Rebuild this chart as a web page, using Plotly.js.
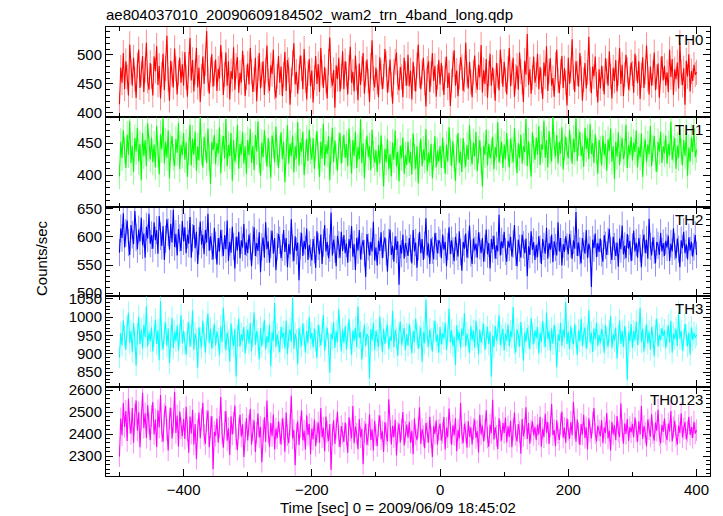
<!DOCTYPE html>
<html>
<head>
<meta charset="utf-8">
<script src="https://cdn.plot.ly/plotly-3.0.1.min.js"></script>
<style>html,body{margin:0;padding:0;background:#fff;}#chart{width:723px;height:516px;}</style>
</head>
<body>
<div id="chart"></div>
<script>
// Time bins (sec), 0 = 2009/06/09 18:45:02
var tStart = -500, tStep = 2;

var bandNames = ["TH0", "TH1", "TH2", "TH3", "TH0123"];

var th0 = [415,478,452,503,441,489,462,430,518,471,447,495,458,426,482,509,443,467,498,436,474,521,455,440,486,
463,430,497,472,515,448,481,425,466,502,439,477,533,458,421,490,467,444,511,476,432,469,495,452,484,
447,505,461,428,483,529,456,491,437,470,512,444,478,419,463,497,450,486,541,458,433,474,501,445,468,
492,438,476,459,517,483,431,466,504,447,489,423,472,458,513,440,481,496,435,469,452,507,478,429,461,
485,449,512,471,436,458,495,420,477,503,442,466,489,431,474,516,455,438,482,467,509,444,426,463,498,
452,480,429,466,505,438,491,474,414,457,486,520,449,471,433,462,499,477,441,510,456,423,468,493,446,
473,418,461,498,450,484,436,512,469,443,479,455,425,488,530,464,447,474,409,482,458,495,437,463,506,
441,489,467,432,478,514,452,471,437,499,460,422,485,448,476,503,433,467,492,455,419,481,525,459,444,
478,453,427,496,470,441,463,510,484,435,457,492,449,416,471,488,504,452,439,479,462,427,495,468,447,
500,446,473,423,488,459,437,482,518,464,441,470,495,452,411,476,489,436,467,503,455,481,428,462,491,
449,486,460,431,475,497,443,469,412,455,484,508,447,473,429,462,496,479,438,457,521,466,442,488,453,
427,470,499,456,440,483,461,517,435,474,450,493,426,468,502,447,478,455,421,486,464,439,509,472,445,
488,457,432,476,512,446,469,495,428,463,481,440,504,471,453,419,490,466,536,448,475,433,461,497,452,
466,502,441,479,455,424,487,463,515,438,472,494,447,460,428,483,509,456,434,471,498,443,477,452,413,
495,450,474,527,461,436,489,468,445,503,476,421,457,486,442,470,531,458,434,480,463,497,449,418,475,
442,481,459,432,494,472,447,506,463,425,478,455,491,437,468,512,450,483,429,466,500,474,440,459,487,
468,435,502,477,451,489,424,465,496,443,471,516,458,432,480,447,469,504,439,462,485,426,474,498,456,
481,447,470,436,509,462,493,431,475,458,487,442,520,469,448,477,414,490,463,501,437,472,455,483,466,
470];

var th1 = [398,452,427,470,439,411,463,432,485,419,446,405,458,437,474,421,449,392,466,430,455,414,481,442,425,
459,420,448,412,477,433,401,464,440,489,418,452,427,470,395,443,461,428,414,456,435,482,409,447,431,
466,424,451,397,438,479,415,457,432,468,407,445,423,491,436,412,460,444,419,473,428,386,452,439,463,
417,450,434,475,403,442,461,426,488,414,447,430,466,391,455,421,438,479,410,449,432,468,418,445,402,
455,431,472,419,446,408,463,437,484,424,399,451,428,470,441,413,458,433,396,462,447,420,476,435,411,
441,467,425,452,389,436,478,418,449,430,462,404,445,426,483,415,451,437,468,400,434,457,422,471,438,
424,458,410,443,469,431,397,452,426,480,415,448,433,461,392,439,474,420,454,429,407,447,466,418,440,
463,427,449,414,473,436,402,455,430,468,411,444,425,487,419,450,395,436,462,428,445,408,471,433,420,
439,405,447,418,462,428,382,441,420,456,409,433,398,451,424,470,413,437,390,446,427,459,402,431,416,
452,419,436,401,465,428,410,445,387,432,457,414,440,423,472,406,435,419,449,395,428,461,412,438,421,
446,411,459,430,402,448,421,475,436,414,453,427,391,442,466,419,437,405,458,431,413,447,424,478,434,
417,451,429,468,406,440,455,423,382,446,432,471,415,449,426,437,460,409,444,428,483,420,439,452,411,
448,425,466,434,412,457,439,420,474,431,403,450,427,463,418,445,436,488,414,453,429,398,467,440,424,
459,432,477,416,448,440,485,427,455,412,469,438,421,491,446,429,463,418,452,434,475,409,444,460,437,
426,471,443,418,457,436,489,422,451,468,430,445,413,474,441,458,425,480,433,450,419,464,438,402,455,
440,415,462,431,449,407,456,438,473,421,445,394,452,429,467,416,441,458,425,436,479,411,447,432,460,
423,451,436,470,412,444,428,465,397,439,456,420,448,433,477,414,442,461,426,405,452,437,468,419,445,
434,462,418,449,431,484,424,441,458,410,446,427,472,437,415,455,430,466,399,443,421,459,436,474,428,
440];

var th2 = [572,615,598,642,581,607,629,590,568,621,604,587,646,599,578,613,592,634,585,606,563,618,597,641,588,
603,579,626,594,612,570,637,601,584,619,559,596,631,608,577,623,590,648,582,605,567,614,598,575,628,
592,617,571,604,588,635,563,598,621,580,609,552,593,627,586,604,569,612,590,641,575,601,583,560,616,
585,551,598,574,612,589,566,603,578,629,557,591,572,618,583,544,600,576,609,562,594,581,623,568,590,
571,604,583,548,595,617,566,589,575,608,537,582,599,563,626,578,592,554,587,611,570,598,541,583,605,
594,562,581,612,573,598,546,587,569,631,580,557,601,575,590,523,584,607,566,593,578,615,559,586,572,
558,596,577,545,610,583,569,604,552,589,621,574,591,562,580,643,567,595,578,548,602,586,563,609,575,
603,571,588,554,596,580,619,565,587,541,598,576,612,560,583,594,571,529,605,582,567,591,574,627,558,
581,549,593,575,608,562,587,599,573,538,590,613,568,584,556,601,577,592,515,586,570,604,561,589,578,
566,598,580,553,612,574,590,545,582,609,571,596,559,585,633,567,588,552,597,576,560,607,583,571,594,
589,562,604,577,591,548,583,617,569,594,575,557,600,582,565,610,573,540,591,579,606,563,586,620,571,
552,597,576,588,563,608,584,571,598,556,580,613,569,589,544,596,578,602,561,585,574,639,567,592,580,
609,574,556,593,581,600,565,587,621,572,548,595,580,563,604,586,571,597,530,583,568,610,577,591,559,
586,564,601,578,552,596,583,570,616,561,589,577,604,555,592,581,567,626,574,598,549,587,573,601,582,
569,605,587,561,594,579,644,566,590,575,553,598,584,570,612,562,588,577,511,595,580,606,564,589,573,
597,571,556,603,585,568,592,614,576,559,600,583,566,590,547,597,578,620,569,584,562,605,579,593,557,
582,611,574,590,563,598,580,546,589,604,571,595,561,632,583,567,599,576,553,591,585,568,607,574,589,
566,593,581,602,557,588,574,615,583,562,597,578,546,594,580,609,571,587,560,599,576,591,565,582,603,
568];

var th3 = [890,957,923,991,948,911,975,1012,930,962,905,984,941,868,953,1001,926,967,914,979,945,1030,920,958,934,
972,906,951,993,927,964,882,1043,939,912,958,985,921,969,874,947,998,915,960,935,977,908,951,1005,928,
963,930,897,958,986,920,949,1018,911,955,938,862,972,943,918,990,951,903,966,1011,929,968,914,947,981,
922,961,940,896,975,932,1026,945,910,958,937,878,983,942,921,968,838,949,996,919,954,935,973,901,946,
966,928,984,907,951,1013,925,962,939,885,970,920,956,993,912,948,930,980,866,959,936,1039,918,953,931,
905,973,944,958,915,991,899,949,967,932,1052,914,955,937,871,970,946,921,983,952,903,962,929,1000,941,
957,917,969,935,889,979,948,922,962,1006,908,946,971,928,848,955,940,986,916,961,933,1021,949,906,966,
930,976,912,953,994,942,897,963,936,972,918,1029,944,959,884,938,980,921,954,946,832,967,937,985,910,
963,937,919,1002,951,904,968,927,960,979,912,947,935,1017,918,965,943,894,957,988,925,950,971,909,953,
922,981,946,901,962,932,996,953,914,946,972,878,959,929,1048,947,920,966,940,906,961,990,933,952,903,
973,926,956,942,985,910,950,1023,931,964,921,946,869,978,937,959,915,969,949,1011,920,955,936,902,975,
938,962,917,991,947,899,966,930,955,982,911,944,973,926,961,837,950,918,976,936,958,1005,924,949,968,
909,955,936,980,920,962,945,1028,928,903,967,951,919,987,940,881,958,932,971,947,913,997,954,926,964,
944,973,901,958,933,990,950,918,1012,939,962,908,969,927,979,946,863,953,935,984,921,966,944,1041,926,
960,913,975,941,926,982,948,897,964,934,996,921,953,972,914,945,1019,930,957,905,968,940,985,922,951,
929,968,950,903,979,944,919,961,1003,915,953,936,972,887,948,991,927,963,918,976,942,829,959,934,981,
916,962,938,988,924,955,1025,932,968,906,947,981,928,961,911,973,945,893,963,996,920,952,937,970,948,
964,915,949,977,930,990,903,955,941,968,922,1013,942,962,909,936,982,950,921,958,898,972,938,957,944,
952];

var th0123 = [2298,2470,2395,2541,2432,2505,2368,2560,2452,2401,2518,2360,2487,2553,2415,2499,2340,2462,2588,2428,2494,2382,2531,2448,2372,
2482,2545,2398,2466,2341,2508,2430,2577,2412,2365,2490,2528,2420,2325,2471,2519,2380,2452,2592,2405,2484,2343,2502,2426,2390,
2468,2378,2524,2415,2315,2480,2402,2510,2352,2445,2286,2418,2498,2381,2466,2542,2396,2355,2458,2507,2340,2430,2482,2240,2410,
2392,2470,2360,2432,2568,2402,2338,2455,2505,2370,2426,2305,2481,2398,2450,2530,2378,2328,2426,2488,2389,2444,2295,2408,2473,
2371,2440,2515,2352,2418,2462,2318,2405,2493,2384,2432,2272,2415,2476,2365,2553,2408,2342,2450,2390,2489,2330,2425,2381,2458,
2405,2352,2470,2425,2320,2498,2394,2358,2440,2574,2380,2418,2258,2400,2458,2350,2432,2508,2372,2415,2330,2485,2396,2446,2308,
2425,2376,2466,2345,2408,2452,2360,2518,2385,2428,2322,2479,2411,2368,2446,2236,2398,2462,2355,2425,2501,2390,2340,2436,2405,
2364,2452,2398,2315,2476,2416,2380,2528,2358,2434,2401,2331,2468,2385,2424,2262,2410,2448,2350,2396,2490,2373,2421,2325,2460,
2395,2345,2438,2484,2376,2413,2318,2455,2400,2366,2558,2415,2352,2437,2386,2465,2302,2405,2448,2362,2421,2500,2348,2410,2443,
2383,2456,2360,2415,2308,2470,2398,2372,2430,2522,2355,2422,2391,2335,2450,2408,2362,2478,2385,2296,2436,2400,2462,2352,2418,
2448,2370,2406,2477,2330,2428,2385,2516,2405,2351,2440,2395,2472,2322,2418,2380,2541,2402,2358,2447,2410,2338,2458,2388,2431,
2352,2424,2466,2382,2413,2316,2488,2398,2438,2366,2419,2508,2384,2342,2442,2405,2556,2375,2430,2392,2332,2472,2413,2370,2450,
2405,2475,2362,2435,2388,2460,2340,2420,2498,2396,2366,2445,2410,2310,2468,2390,2426,2522,2378,2450,2356,2416,2458,2395,2432,
2372,2442,2398,2478,2342,2424,2386,2492,2406,2455,2355,2433,2537,2395,2418,2345,2462,2404,2373,2445,2502,2383,2428,2360,2470,
2418,2378,2455,2395,2546,2428,2365,2466,2405,2350,2445,2398,2488,2382,2430,2330,2472,2412,2380,2452,2518,2403,2366,2438,2416,
2390,2462,2358,2430,2405,2495,2380,2416,2325,2456,2398,2440,2372,2482,2410,2386,2540,2418,2356,2448,2400,2468,2368,2432,2408,
2446,2385,2475,2412,2365,2458,2398,2528,2378,2436,2405,2345,2466,2422,2388,2490,2404,2370,2452,2415,2510,2395,2358,2442,2410,
2470,2398,2372,2448,2412,2505,2366,2430,2460,2392,2352,2438,2405,2494,2385,2425,2455,2375,2412,2478,2396,2432,2382,2456,2402,
2418];

var seriesValues = [th0, th1, th2, th3, th0123];
var yTickVals = [[400,450,500],[400,450],[500,550,600,650],[850,900,950,1000,1050],[2300,2400,2500,2600]];
var xTickVals = [-400,-200,0,200,400];
var xMinorVals = [-500,-300,-100,100,300];

// styles
var lineColors = ["#ff0000","#00ff00","#0000ff","#00ffff","#ff00ff"];
var errColors = ["rgba(255,0,0,0.45)","rgba(0,255,0,0.45)","rgba(0,0,255,0.45)","rgba(0,255,255,0.45)","rgba(255,0,255,0.45)"];
var yRanges = [[393,548],[350,491],[495,653],[809,1058],[2209,2614]];
var yMinor = [10,10,10,10,20];
var plotTop = 27, plotBot = 476;
var bounds = [27,117,207,296,387,476];
var H = plotBot - plotTop;

var font = "Liberation Sans, Arial, Helvetica, sans-serif";
var traces = [];
var layout = {
  width: 723, height: 516,
  margin: {l: 106, r: 13, t: 27, b: 40},
  paper_bgcolor: "#fff", plot_bgcolor: "#fff",
  showlegend: false,
  font: {family: font, size: 15, color: "#000"},
  title: {text: "ae804037010_20090609184502_wam2_trn_4band_long.qdp", x: 106/723, xanchor: "left",
          xref: "container", y: 1 - 15/516, yref: "container", yanchor: "middle",
          font: {family: font, size: 15, color: "#000"}},
  annotations: []
};

for (var k = 0; k < 5; k++) {
  var sx = k === 0 ? "" : String(k + 1);
  var vals = seriesValues[k];
  var t = [];
  for (var i = 0; i < vals.length; i++) t.push(tStart + i * tStep);
  traces.push({
    x: t, y: vals, type: "scatter", mode: "lines",
    xaxis: "x" + sx, yaxis: "y" + sx,
    line: {color: lineColors[k], width: 1.1},
    error_y: {type: "sqrt", visible: true, color: errColors[k], thickness: 1, width: 0},
    hoverinfo: "skip"
  });
  var d0 = (plotBot - bounds[k + 1]) / H, d1 = (plotBot - bounds[k]) / H;
  layout["yaxis" + sx] = {
    domain: [d0, d1], range: yRanges[k], anchor: "x" + sx,
    tickvals: yTickVals[k], ticktext: yTickVals[k].map(String),
    ticks: "inside", ticklen: 7, tickcolor: "#000", tickwidth: 1,
    minor: {dtick: yMinor[k], ticks: "inside", ticklen: 4, tickcolor: "#000", tickwidth: 1, showgrid: false},
    showline: true, linecolor: "#000", linewidth: 1, mirror: "ticks",
    showgrid: false, zeroline: false,
    tickfont: {family: font, size: 15, color: "#000"}
  };
  layout["xaxis" + sx] = {
    domain: [0, 1], range: [-521, 421], anchor: "y" + sx,
    tickvals: xTickVals, ticks: "inside", ticklen: 7, tickcolor: "#000", tickwidth: 1,
    minor: {tickvals: xMinorVals, ticks: "inside", ticklen: 4, tickcolor: "#000", tickwidth: 1, showgrid: false},
    showline: true, linecolor: "#000", linewidth: 1, mirror: "ticks",
    showgrid: false, zeroline: false,
    showticklabels: k === 4,
    tickfont: {family: font, size: 15, color: "#000"}
  };
  if (k > 0) layout["xaxis" + sx].matches = "x";
  layout.annotations.push({
    text: bandNames[k], xref: "paper", yref: "paper",
    x: (705 - 106) / 604, y: d1 - 2 / H, xanchor: "right", yanchor: "top",
    showarrow: false, font: {family: font, size: 15, color: "#000"}
  });
}

layout.annotations.push({
  text: "Counts/sec", xref: "paper", yref: "paper",
  x: (41 - 106) / 604, y: (plotBot - 258) / H, xanchor: "center", yanchor: "middle",
  textangle: -90, showarrow: false, font: {family: font, size: 15, color: "#000"}
});
layout.annotations.push({
  text: "Time [sec] 0 = 2009/06/09 18:45:02", xref: "paper", yref: "paper",
  x: (398 - 106) / 604, y: (plotBot - 507) / H, xanchor: "center", yanchor: "middle",
  showarrow: false, font: {family: font, size: 15, color: "#000"}
});

Plotly.newPlot("chart", traces, layout, {displayModeBar: false, staticPlot: true});
</script>
</body>
</html>
